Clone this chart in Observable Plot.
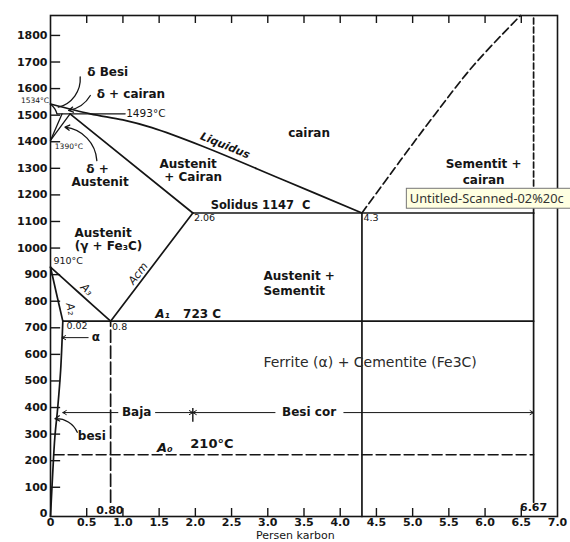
<!DOCTYPE html>
<html><head><meta charset="utf-8">
<script src="https://cdn.jsdelivr.net/npm/d3@7"></script>
<script src="https://cdn.jsdelivr.net/npm/@observablehq/plot@0.6"></script>
<style>html,body{margin:0;padding:0;background:#fff;overflow:hidden;}</style>
</head><body><div id="chart"></div>
<script>
// ---- axis ticks ----
const xTicks = [0,0.5,1,1.5,2,2.5,3,3.5,4,4.5,5,5.5,6,6.5,7];
const xTickLabels = ["0","0.5","1.0","1.5","2.0","2.5","3.0","3.5","4.0","4.5","5.0","5.5","6.0","6.5","7.0"];
const xInnerTicks = [0.5,1,1.5,2,2.5,3,3.5,4,4.5,5,5.5,6,6.5];
const yTicks = [0,100,200,300,400,500,600,700,800,900,1000,1100,1200,1300,1400,1500,1600,1700,1800];
const yInnerTicks = [100,200,300,400,500,600,700,800,900,1000,1100,1200,1300,1400,1500,1600,1700,1800];

// ---- phase boundaries [carbon %, temperature °C] as drawn ----
const liquidus = [[0,1542],[0.55,1505],[1.0,1482],[1.4,1453],[2.1,1383],[3.2,1258],[4.3,1132]];
const deltaSolidus = [[0,1542],[0.06,1524],[0.09,1505]];
const peritectic = [[0.09,1505],[1.03,1505]];
const deltaSolvus = [[0.16,1505],[0,1405]];
const gammaDelta = [[0.27,1505],[0,1405]];
const solidus = [[0.27,1505],[1.965,1132]];
const eutectic = [[1.965,1132],[6.67,1132]];
const cementiteLiquidus = [[4.3,1132],[4.83,1329],[5.3,1500],[5.84,1687],[6.49,1875]];
const cementiteUpper = [[6.67,1132],[6.67,1875]];
const cementiteLower = [[6.67,44],[6.67,1132]];
const eutecticVertical = [[4.3,-10],[4.3,1132]];
const eutectoidVertical = [[0.83,44],[0.83,725]];
const eutectoid = [[0.17,725],[6.67,725]];
const a3 = [[0,928],[0.2,879],[0.4,830],[0.83,725]];
const a2 = [[0,928],[0.094,815],[0.17,725]];
const alphaSolvus = [[0.17,725],[0.14,540],[0.1,400],[0.06,288],[0.03,150],[0,-10]];
const acm = [[0.83,725],[1.965,1132]];
const a0 = [[0.05,222],[6.67,222]];

// ---- labels ----
const regionLabels = [
  {x:0.79,y:1662,text:"δ Besi"},
  {x:1.11,y:1578,text:"δ + cairan"},
  {x:0.65,y:1298,text:"δ +"},
  {x:0.684,y:1248,text:"Austenit"},
  {x:1.9,y:1317,text:"Austenit"},
  {x:1.97,y:1268,text:"+ Cairan"},
  {x:3.57,y:1431,text:"cairan"},
  {x:5.98,y:1314,text:"Sementit +"},
  {x:5.98,y:1257,text:"cairan"},
  {x:0.726,y:1055,text:"Austenit"},
  {x:0.8,y:1007,text:"(γ + Fe₃C)"},
  {x:1.19,y:381,text:"Baja"},
  {x:3.57,y:381,text:"Besi cor"},
  {x:0.57,y:293,text:"besi"}
];
const leftLabels = [
  {x:2.94,y:893,text:"Austenit +"},
  {x:2.94,y:838,text:"Sementit"},
  {x:1.83,y:750,text:"723 C"}
];
const ferriteLabel = [{x:2.94,y:570,text:"Ferrite (α) + Cementite (Fe3C)"}];
const solidusLabel = [{x:2.9,y:1160,text:"Solidus 1147  C"}];
const smallLabels = [
  {x:1.98,y:1114,text:"2.06"},
  {x:4.32,y:1114,text:"4.3"},
  {x:0.22,y:706,text:"0.02"},
  {x:0.85,y:705,text:"0.8"},
  {x:0.04,y:953,text:"910°C"}
];
const tinyLabels = [{x:0.06,y:1383,text:"1390°C"}];
const tinyLabelsEnd = [{x:-0.02,y:1555,text:"1534°C"}];
const peritecticLabel = [{x:1.045,y:1505,text:"1493°C"}];
const italicLabels = [{x:1.445,y:750,text:"A₁"}];
const a0Labels = [{x:1.47,y:248,text:"A₀"}];
const a0Temp = [{x:1.93,y:265,text:"210°C"}];
const alphaLabel = [{x:0.625,y:663,text:"α"}];
const bottomValueLabels = [{x:0.82,y:13,text:"0.80"},{x:6.67,y:23,text:"6.67"}];
const axisTitle = [{x:3.38,y:-81,text:"Persen karbon"}];

// ---- leaders & arrows ----
const deltaBesiLeader = [{x1:0.41,y1:1644,x2:0.108,y2:1530}];
const deltaCairanLeader = [{x1:0.55,y1:1574,x2:0.25,y2:1518}];
const deltaAustLeader = [{x1:0.64,y1:1329,x2:0.2,y2:1455}];
const besiLeader = [{x1:0.37,y1:307,x2:0.062,y2:358}];
const rangeArrows = [
  {x1:0.52,y1:663,x2:0.16,y2:663},
  {x1:0.93,y1:381,x2:0.17,y2:381},
  {x1:1.45,y1:381,x2:1.965,y2:381},
  {x1:3.1,y1:381,x2:1.965,y2:381},
  {x1:4.05,y1:381,x2:6.67,y2:381}
];
const divider = [{x:1.965,y1:345,y2:396}];
const tooltip = [{x1:4.92,x2:7.2,y1:1148,y2:1223,text:"Untitled-Scanned-02%20c"}];

const ink = "#151515";
const line = (data, o={}) => Plot.line(data, {x:d=>d[0], y:d=>d[1], stroke:ink, strokeWidth:1.7, ...o});
const txt = (data, o={}) => Plot.text(data, {x:"x", y:"y", text:"text", fill:ink, fontFamily:"DejaVu Sans", ...o});

const chart = Plot.plot({
  width:570, height:542,
  marginTop:15, marginRight:13, marginBottom:26, marginLeft:50,
  x:{domain:[0,7], axis:null},
  y:{domain:[-10,1875], axis:null},
  style:{fontFamily:"DejaVu Sans", background:"#fff", color:ink},
  marks:[
    Plot.frame({stroke:ink, strokeWidth:1.6}),
    Plot.ruleY(yInnerTicks, {y:d=>d, x1:0, x2:0.14, stroke:ink, strokeWidth:1.4}),
    Plot.ruleX(xInnerTicks, {x:d=>d, y1:-10, y2:20, stroke:ink, strokeWidth:1.4}),
    Plot.ruleX(xInnerTicks, {x:d=>d, y1:1875, y2:1845, stroke:ink, strokeWidth:1.4}),
    Plot.text(yTicks, {y:d=>d, text:d=>String(d), frameAnchor:"left", dx:-3, textAnchor:"end", fontSize:11, fontWeight:"bold", fill:ink}),
    Plot.text(xTicks, {x:d=>d, text:(d,i)=>xTickLabels[i], frameAnchor:"bottom", dy:9, fontSize:11, fontWeight:"bold", fill:ink}),

    line(liquidus, {curve:"catmull-rom"}),
    line(deltaSolidus, {curve:"catmull-rom", strokeWidth:1.3}),
    line(peritectic, {strokeWidth:1.4}),
    line(deltaSolvus, {strokeWidth:1.3}),
    line(gammaDelta, {strokeWidth:1.3}),
    line(solidus),
    line(eutectic),
    line(cementiteLiquidus, {curve:"catmull-rom", strokeDasharray:"8,4"}),
    line(cementiteUpper, {strokeDasharray:"6,3"}),
    line(cementiteLower),
    line(eutecticVertical),
    line(eutectoidVertical, {strokeDasharray:"12,4"}),
    line(eutectoid),
    line(a3, {curve:"catmull-rom"}),
    line(a2, {curve:"catmull-rom"}),
    line(alphaSolvus, {curve:"catmull-rom"}),
    line(acm),
    line(a0, {strokeDasharray:"10,4", strokeWidth:1.5}),

    Plot.arrow(deltaBesiLeader, {x1:"x1",y1:"y1",x2:"x2",y2:"y2", bend:40, headLength:0, stroke:ink, strokeWidth:1.3}),
    Plot.arrow(deltaCairanLeader, {x1:"x1",y1:"y1",x2:"x2",y2:"y2", bend:25, headLength:6, stroke:ink, strokeWidth:1.3}),
    Plot.arrow(deltaAustLeader, {x1:"x1",y1:"y1",x2:"x2",y2:"y2", bend:-40, headLength:6, stroke:ink, strokeWidth:1.3}),
    Plot.arrow(besiLeader, {x1:"x1",y1:"y1",x2:"x2",y2:"y2", bend:-35, headLength:6, stroke:ink, strokeWidth:1.3}),
    Plot.arrow(rangeArrows, {x1:"x1",y1:"y1",x2:"x2",y2:"y2", headLength:6, stroke:ink, strokeWidth:1}),
    Plot.ruleX(divider, {x:"x", y1:"y1", y2:"y2", stroke:ink, strokeWidth:1.4}),

    txt(regionLabels, {fontSize:12, fontWeight:"bold"}),
    txt(leftLabels, {fontSize:12, fontWeight:"bold", textAnchor:"start"}),
    txt(ferriteLabel, {fontSize:14, textAnchor:"start", fill:"#2a2a2a"}),
    txt(solidusLabel, {fontSize:11.5, fontWeight:"bold"}),
    txt(smallLabels, {fontSize:9.5, textAnchor:"start"}),
    txt(tinyLabels, {fontSize:7.5, textAnchor:"start"}),
    txt(tinyLabelsEnd, {fontSize:7.5, textAnchor:"end"}),
    txt(peritecticLabel, {fontSize:10.5, textAnchor:"start"}),
    txt(italicLabels, {fontSize:12, fontStyle:"italic", fontWeight:"bold", textAnchor:"start"}),
    txt(a0Labels, {fontSize:13, fontStyle:"italic", fontWeight:"bold", textAnchor:"start"}),
    txt(a0Temp, {fontSize:13, fontWeight:"bold", textAnchor:"start"}),
    txt(alphaLabel, {fontSize:12, fontWeight:"bold"}),
    txt(bottomValueLabels, {fontSize:11, fontWeight:"bold"}),
    txt(axisTitle, {fontSize:11}),
    Plot.text([{x:2.41,y:1386,text:"Liquidus"}], {x:"x",y:"y",text:"text", rotate:22, fontSize:11, fontStyle:"italic", fontWeight:"bold", fill:ink}),
    Plot.text([{x:0.5,y:844,text:"A₃"}], {x:"x",y:"y",text:"text", rotate:43, fontSize:11, fontStyle:"italic", fill:ink}),
    Plot.text([{x:0.28,y:771,text:"A₂"}], {x:"x",y:"y",text:"text", rotate:78, fontSize:11, fontStyle:"italic", fill:ink}),
    Plot.text([{x:1.21,y:904,text:"Acm"}], {x:"x",y:"y",text:"text", rotate:-52, fontSize:11, fontStyle:"italic", fill:ink}),

    Plot.rect(tooltip, {x1:"x1", x2:"x2", y1:"y1", y2:"y2", fill:"#ffffe1", stroke:"#767676", strokeWidth:1}),
    Plot.text(tooltip, {x:"x1", y:d=>(d.y1+d.y2)/2, text:"text", dx:3, textAnchor:"start", fontFamily:"Noto Sans", fontSize:12.8, fill:"#333"})
  ]
});
document.getElementById("chart").append(chart);
</script>
</body></html>
